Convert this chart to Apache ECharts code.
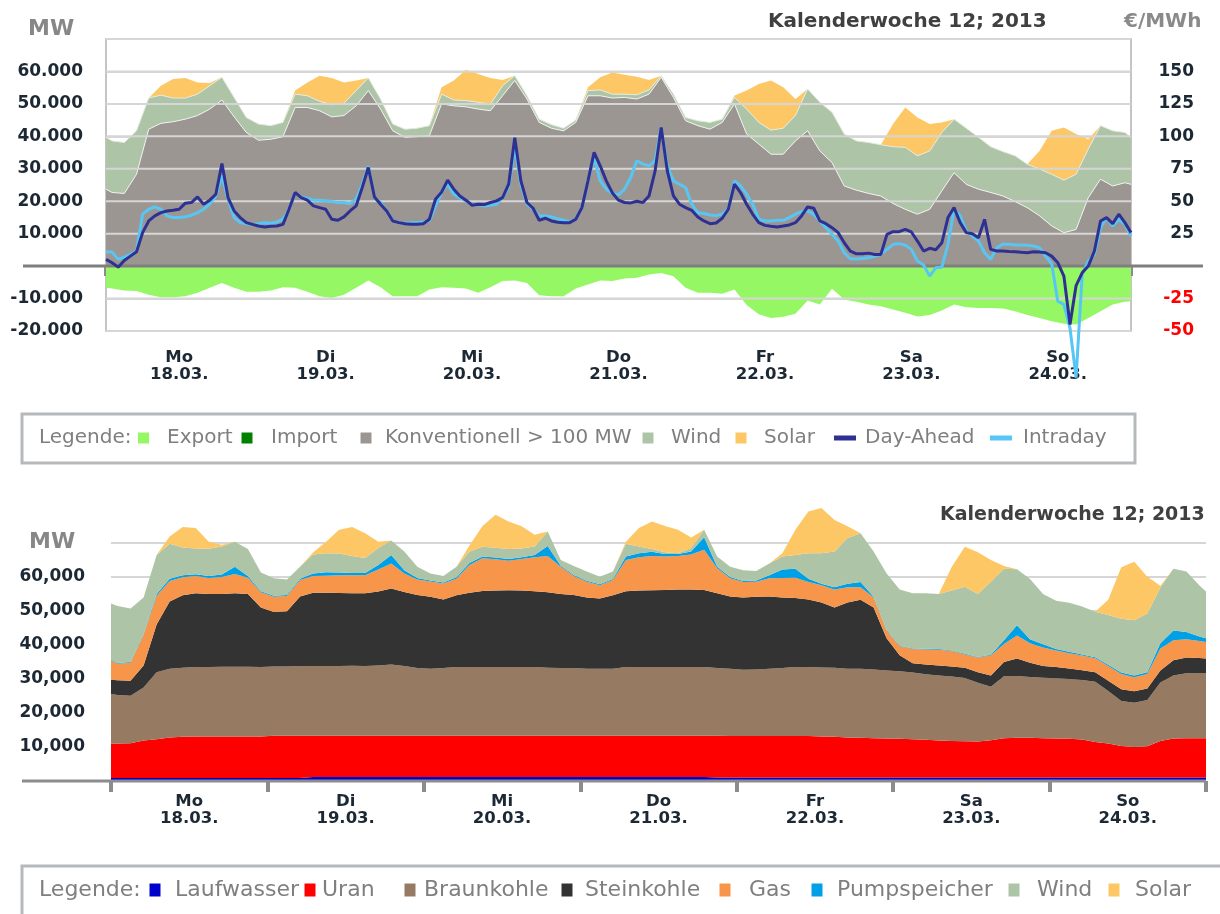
<!DOCTYPE html>
<html>
<head>
<meta charset="utf-8">
<title>Kalenderwoche 12; 2013</title>
<script src="https://cdn.jsdelivr.net/npm/echarts@6/dist/echarts.min.js"></script>
<style>
  html, body { margin: 0; padding: 0; background: #fff; }
  #chart { width: 1220px; height: 914px; }
</style>
</head>
<body>
<div id="chart"></div>
<script>
// hour of week for the area samples (0 = Mo 18.03. 00:00)
const areaHours = [0, 1, 3, 5, 7, 9, 11, 13, 15, 17, 19, 21, 23,
  25, 27, 29, 31, 33, 35, 37, 39, 41, 43, 45, 47,
  49, 51, 53, 55, 57, 59, 61, 63, 65, 67, 69, 71,
  73, 75, 77, 79, 81, 83, 85, 87, 89, 91, 93, 95,
  97, 99, 101, 103, 105, 107, 109, 111, 113, 115, 117, 119,
  121, 123, 125, 127, 129, 131, 133, 135, 137, 139, 141, 143,
  145, 147, 149, 151, 153, 155, 157, 159, 161, 163, 165, 167, 168];

const dayNames = ['Mo', 'Di', 'Mi', 'Do', 'Fr', 'Sa', 'So'];
const dayDates = ['18.03.', '19.03.', '20.03.', '21.03.', '22.03.', '23.03.', '24.03.'];

// ---- upper chart: MW ----
const topExport = [-6700, -6900, -7500, -7700, -8800, -9600, -9600, -9300, -8200, -6700, -5200, -6700, -7900,
  -7900, -7500, -6500, -6700, -7900, -9300, -9800, -8800, -6700, -4400, -6500, -9300,
  -9300, -9300, -7200, -6500, -6700, -6900, -8200, -6500, -4600, -4400, -5200, -9000,
  -9300, -9300, -6900, -5700, -4400, -4600, -3800, -3600, -2600, -2100, -3100, -6700,
  -8200, -8200, -8500, -7200, -12000, -14800, -16000, -15600, -14700, -10600, -11800, -7000,
  -10300, -11000, -11800, -12400, -13400, -14400, -15500, -15100, -13700, -11800, -12700, -12900,
  -12900, -13100, -13900, -15100, -16000, -17000, -17800, -18000, -16000, -13900, -11800, -11000, -10800];
const topImport = [];
const topConv = [23700, 22700, 22400, 28300, 42200, 44000, 44500, 45300, 46400, 48400, 51200, 46000, 41200,
  38800, 39100, 39900, 48900, 48900, 47900, 46000, 46400, 49400, 54100, 48400, 41700,
  39700, 39900, 40200, 50000, 49400, 49100, 48400, 47900, 52500, 57200, 51500, 44300,
  42500, 41700, 44300, 52500, 52500, 51800, 52000, 51500, 53000, 58200, 52000, 44800,
  43300, 42200, 44300, 50000, 40700, 37600, 34500, 34500, 38600, 41700, 35500, 31900,
  24700, 23400, 22400, 21600, 19300, 17500, 16000, 17500, 23200, 28800, 25200, 23700,
  22700, 21600, 19900, 18000, 15500, 12400, 10300, 11300, 21100, 26800, 24700, 25700, 25200];
const topWind = [16000, 15900, 15700, 13400, 9600, 8700, 7300, 6500, 6600, 7200, 7000, 6000, 4600,
  5000, 4200, 4400, 4100, 3600, 2900, 3700, 3800, 4700, 3900, 3100, 2100,
  2500, 2600, 3100, 3000, 1800, 1900, 2100, 2000, 3100, 1500, 1000, 1000,
  1100, 800, 700, 1600, 1800, 1200, 1000, 1300, 1300, 500, 1000, 1000,
  1500, 2100, 1000, 2000, 7700, 6700, 7400, 8000, 7800, 12900, 15000, 15500,
  16000, 15200, 15700, 15800, 17500, 19100, 18000, 18000, 18000, 16500, 17300, 16000,
  14100, 13700, 14100, 13400, 14400, 15900, 16200, 17000, 15000, 16500, 17000, 15500, 14500];
const topSolar = [0, 0, 0, 0, 0, 2900, 5900, 6200, 3600, 800, 0, 0, 0,
  0, 0, 0, 1100, 4100, 7900, 8300, 6400, 3100, 0, 0, 0,
  0, 0, 0, 2100, 6000, 9500, 8700, 8100, 1800, 0, 0, 0,
  0, 0, 0, 1000, 3900, 6700, 6000, 5600, 3100, 0, 0, 0,
  0, 0, 0, 600, 5700, 11800, 15300, 12600, 5100, 0, 0, 0,
  0, 0, 0, 0, 7000, 12300, 11800, 8300, 3100, 0, 0, 0,
  0, 0, 0, 0, 5600, 13400, 16200, 12400, 3000, 0, 0, 0, 0];
// y-axis tick values whose grid lines are drawn over the areas
const topGridValues = [-20000, -10000, 10000, 20000, 30000, 40000, 50000, 60000, 70000];

// ---- upper chart: prices, EUR/MWh, hourly from Mo 00:00 ----
const dayAhead = [5.2, 2.6, -0.8, 4.4, 7.7, 11, 25.8, 34.8, 38.7, 41.2, 42.5, 43, 43.8, 48.5, 49, 53.3, 47.7, 50.8, 55.4, 79, 52.8, 42.5, 37.4, 33.5,
  32.2, 30.9, 30.2, 30.7, 30.9, 32.2, 43.8, 56.7, 52.8, 50.8, 46.4, 45.1, 43.8, 36.1, 35.3, 37.9, 42.5, 46.4, 60.6, 76, 53.3, 47.7, 42.5, 34.8,
  33.5, 32.7, 32.2, 32.2, 32.7, 36.1, 51.5, 57, 66.2, 59.3, 54.1, 50.8, 46.9, 47.7, 47.4, 49, 50.3, 52.8, 63.1, 99, 65.7, 49, 44.6, 35.3,
  36.9, 34.8, 33.8, 33.5, 33.5, 36.1, 45.1, 65.7, 87.6, 77.3, 65.7, 56.4, 50.8, 49, 48.7, 50, 49, 54.1, 73.4, 106.9, 73.4, 54.1, 47.7, 45.1,
  43, 37.9, 34.8, 32.7, 33.2, 36.9, 43.8, 63.1, 56.7, 47.7, 39.9, 33.5, 31.4, 30.7, 30.2, 30.9, 31.7, 33.5, 38.7, 45.6, 44.6, 34.8, 32.7, 29.6,
  25.8, 18, 11.6, 9.5, 9.5, 10, 9, 9, 24.5, 26.5, 26.5, 28.3, 26.3, 19.3, 11.6, 13.7, 12.6, 18, 37.4, 45.1, 33.5, 25.8, 25, 21.9,
  36, 12.9, 11.6, 11.6, 11.3, 11.1, 10.6, 10.3, 11.1, 10.8, 10.3, 7.7, 2.6, -7.7, -45, -15, -5.2, 0, 11.6, 34.8, 37.4, 32.7, 40, 33.5, 25.8];
const intraday = [11, 10.8, 5.2, 7, 9, 11.6, 40, 43.8, 45.6, 43.8, 38.7, 37.4, 37.4, 38.1, 39.2, 41.2, 43.8, 47.7, 54, 69.6, 51.5, 37.4, 33.5, 32.7,
  32, 32.7, 33.5, 33, 34, 36, 43.8, 55.9, 53.3, 52.3, 50.8, 50.8, 50.3, 49.7, 49, 49, 48.2, 51.5, 63, 77, 52.8, 49, 42.5, 34.8,
  33.5, 33, 33.5, 33.5, 34, 35, 46, 56.7, 63.1, 55.4, 52.8, 50.3, 47.2, 47.2, 46.4, 46.9, 47.7, 52.8, 60.6, 91.5, 63.1, 47.7, 43.8, 38.7,
  38.7, 37.9, 36.6, 35.3, 34.3, 36.1, 45.1, 65.7, 83.8, 65.7, 59.3, 55.9, 54.9, 59.3, 68.3, 81.2, 78.6, 77.3, 81.2, 106.9, 77.3, 65.7, 63.1, 60.6,
  47.7, 41.2, 40.5, 39.4, 38.9, 40, 43.8, 65.7, 61.8, 55.4, 47.7, 36.1, 34.8, 34.8, 35.3, 35.3, 37.4, 40, 42, 42.5, 40, 34.8, 29.6, 24.5,
  19.3, 10.3, 5.7, 5.4, 5.9, 6.4, 7.7, 9, 12.9, 16.8, 17.3, 16.2, 12.9, 3.9, 0.8, -7.7, -1.3, -0.8, 16.8, 43.8, 38.7, 27, 23.2, 19.3,
  10.3, 5.2, 14.2, 16.8, 16.8, 16.2, 16.2, 16, 15.5, 14.2, 7.7, 1.8, -27, -29.6, -47.7, -86, -6.4, 3.9, 9, 29.6, 37.4, 30.9, 36.1, 32.2, 23.2];

// ---- lower chart: generation by source, MW ----
const genLaufwasser = [900, 900, 900, 900, 900, 900, 900, 900, 900, 900, 900, 900, 900,
  900, 900, 900, 1200, 1200, 1200, 1200, 1200, 1200, 1200, 1200, 1200,
  1200, 1200, 1200, 1200, 1200, 1200, 1200, 1200, 1200, 1200, 1200, 1200,
  1200, 1200, 1200, 1200, 1200, 1200, 1200, 1200, 1200, 1200, 1000, 1000,
  1000, 1000, 1000, 1000, 1000, 1000, 1000, 1000, 1000, 1000, 1000, 1000,
  1000, 1000, 1000, 1000, 1000, 1000, 1000, 1000, 1000, 1000, 1000, 1000,
  1000, 1000, 1000, 1000, 1000, 1000, 1000, 1000, 1000, 1000, 1000, 1000, 1000];
const genUran = [10100, 10100, 10200, 11000, 11400, 11900, 12100, 12200, 12200, 12200, 12200, 12200, 12200,
  12400, 12400, 12400, 12100, 12100, 12100, 12100, 12100, 12100, 12100, 12100, 12100,
  12100, 12100, 12100, 12100, 12100, 12100, 12100, 12100, 12100, 12100, 12100, 12100,
  12100, 12100, 12100, 12100, 12100, 12100, 12100, 12100, 12100, 12100, 12300, 12200,
  12200, 12200, 12200, 12200, 12200, 12200, 12100, 12000, 11800, 11700, 11600, 11500,
  11400, 11300, 11100, 10900, 10800, 10700, 10600, 11000, 11600, 11700, 11700, 11600,
  11500, 11400, 11200, 10500, 10000, 9300, 9000, 9200, 10800, 11500, 11600, 11600, 11600];
const genBraunkohle = [14600, 14300, 14000, 15600, 19700, 20200, 20300, 20400, 20400, 20500, 20500, 20500, 20400,
  20400, 20400, 20500, 20500, 20500, 20500, 20600, 20500, 20700, 21000, 20500, 19900,
  19700, 19900, 20200, 20200, 20200, 20200, 20200, 20200, 20200, 20000, 19900, 19900,
  19700, 19700, 19700, 20200, 20200, 20200, 20200, 20200, 20200, 20200, 19900, 19800,
  19500, 19600, 19800, 20000, 20300, 20300, 20300, 20300, 20200, 20300, 20200, 20000,
  19900, 19600, 19300, 19100, 18900, 18600, 17300, 15700, 18200, 18200, 17900, 17800,
  17700, 17600, 17500, 17700, 15500, 13200, 13000, 13600, 17200, 18500, 19100, 19200, 19200];
const genSteinkohle = [4200, 4300, 4400, 6500, 14000, 19800, 21300, 21700, 21500, 21400, 21600, 21400, 17500,
  16000, 16200, 20500, 21600, 21600, 21500, 21300, 21400, 21700, 22300, 21800, 21500,
  21200, 20200, 21100, 21900, 22400, 22500, 22600, 22500, 22300, 22200, 21800, 21500,
  21000, 20700, 21600, 22300, 22500, 22600, 22700, 22800, 22800, 22700, 22000, 21300,
  21300, 21400, 21300, 20800, 20300, 19900, 19100, 17700, 19500, 20300, 18200, 9500,
  4700, 2700, 2900, 3000, 3000, 3000, 3100, 3300, 4200, 5100, 4200, 3400,
  3300, 3100, 2900, 2800, 3000, 3500, 3400, 3400, 3500, 4500, 4600, 4400, 4200];
const genGas = [5700, 4900, 5300, 9000, 8500, 6000, 5300, 5100, 4700, 5000, 5700, 4800, 4500,
  4500, 4500, 4800, 4900, 5000, 5200, 5300, 5300, 6500, 7400, 5400, 4600,
  4500, 4700, 4900, 8100, 9600, 9200, 8700, 9300, 10000, 10700, 8000, 5600,
  4600, 3900, 4500, 9200, 9800, 10100, 9800, 9900, 10300, 11800, 7400, 5300,
  4500, 4400, 5300, 5700, 6000, 5100, 5100, 5300, 4500, 3700, 3000, 2300,
  2600, 4200, 4400, 4600, 4500, 3900, 4300, 5900, 5300, 6800, 5700, 5500,
  4900, 4500, 4300, 4100, 4300, 4500, 4100, 4300, 6500, 5900, 5400, 5000, 4900];
const genPumpspeicher = [200, 200, 200, 200, 500, 700, 600, 500, 600, 700, 2100, 500, 300,
  300, 300, 400, 700, 1000, 800, 700, 700, 1300, 2500, 1000, 400,
  300, 300, 400, 600, 500, 500, 500, 500, 700, 2900, 300, 300,
  300, 300, 300, 1000, 1200, 1200, 800, 600, 900, 3700, 400, 400,
  300, 400, 900, 2500, 2600, 1000, 400, 700, 1000, 1500, 200, 200,
  200, 200, 200, 200, 200, 200, 200, 200, 1100, 3000, 1200, 900,
  400, 400, 300, 300, 400, 400, 500, 500, 1500, 2900, 2100, 1300, 1100];
const genWind = [16500, 16800, 15700, 10800, 11500, 10300, 8200, 7600, 8000, 8300, 7400, 7900, 5500,
  5100, 4600, 3500, 5600, 5600, 5600, 5000, 4400, 5000, 4200, 5500, 3300,
  2000, 1900, 3100, 3400, 2900, 2900, 2900, 2600, 2500, 4300, 1700, 2600,
  2700, 2200, 2200, 3800, 2000, 800, 500, 200, 1000, 2200, 3000, 3000,
  3200, 2800, 3500, 3800, 4100, 7500, 9000, 10500, 13500, 14400, 13300, 16500,
  16500, 16200, 16300, 16200, 17600, 19700, 18500, 21500, 21000, 16500, 17700, 14800,
  14200, 14400, 14100, 13400, 14600, 15800, 16300, 17300, 16400, 18100, 17800, 15000, 13700];
const genSolar = [0, 0, 0, 0, 0, 2100, 6000, 6000, 2100, 500, 0, 0, 0,
  0, 0, 0, 600, 3400, 7000, 8500, 7300, 1900, 0, 0, 0,
  0, 0, 0, 1800, 6100, 9700, 8100, 6500, 3400, 0, 0, 0,
  0, 0, 0, 600, 5400, 8100, 7700, 6900, 3100, 0, 0, 0,
  0, 0, 0, 1000, 7400, 12300, 13300, 9300, 3400, 0, 0, 0,
  0, 0, 0, 0, 7000, 11800, 12300, 6400, 800, 0, 0, 0,
  0, 0, 0, 0, 4500, 15200, 17200, 10800, 500, 0, 0, 0, 0];

const FONT = 'DejaVu Sans';
const W = 1220;
const C = {
  export: '#95f763', import: '#008000', conv: '#9c9692', wind: '#adc4a6', solar: '#fdc765',
  da: '#2e3192', id: '#58c6f4', grid: '#d6d6d6',
  lauf: '#0000cc', uran: '#ff0000', braun: '#967b62', stein: '#333333', gas: '#f7964a', pump: '#00a0e6'
};
const topGrid = { left: 106, right: 89, top: 39, height: 292 };
const botGrid = { left: 111, right: 14, top: 475, height: 306 };

// week start, used for the time axes (stacking is done on y only)
const T0 = Date.UTC(2013, 2, 18);
const HOUR = 3600 * 1000;
const pairs = (hs, ys) => hs.map((h, i) => [T0 + h * HOUR, ys[i]]);
const hourly = ys => ys.map((v, i) => [T0 + i * HOUR, v]);
const dayLabels = dayNames.map((d, i) => d + '\n' + dayDates[i]);

function area(name, values, color, stack, xi, yi, line) {
  return {
    name, type: 'line', xAxisIndex: xi, yAxisIndex: yi, stack, z: 2,
    data: pairs(areaHours, values), symbol: 'none', color,
    itemStyle: { color },
    lineStyle: line || { width: 0 },
    areaStyle: { color, opacity: 1 }
  };
}

// legend items: [icon centre x, icon width, icon height, text start x]
const topLegendNames = ['Export', 'Import', 'Konventionell > 100 MW', 'Wind', 'Solar', 'Day-Ahead', 'Intraday'];
const topLegendPos = [[143.5, 11, 11, 167], [247, 11, 11, 271], [366, 11, 11, 385], [648, 11, 11, 671],
  [741, 11, 11, 764], [845, 22, 5, 865], [1001, 22, 5, 1023]];
const botLegendNames = ['Laufwasser', 'Uran', 'Braunkohle', 'Steinkohle', 'Gas', 'Pumpspeicher', 'Wind', 'Solar'];
const botLegendPos = [[155, 11, 13, 175], [310, 11, 13, 322], [410, 11, 13, 424], [567, 11, 13, 585],
  [725, 11, 13, 749], [817, 11, 13, 837], [1014, 11, 13, 1037], [1114, 11, 13, 1135]];

function legends(names, pos, centerY, fontSize) {
  const lh = fontSize + 4;
  return names.map((name, i) => {
    const [cx, w, h, tx] = pos[i];
    const iw = Math.max(w, 2 * (tx - 5 - cx));
    // the legend box starts at the icon's left edge
    return {
      left: tx - 5 - iw + (iw - w) / 2, top: centerY - lh / 2, padding: 0,
      itemWidth: iw, itemHeight: h, itemGap: 0, selectedMode: false,
      icon: 'path://M0,0h' + w + 'v' + h + 'h-' + w + 'Z',
      itemStyle: { borderWidth: 0 },
      data: [name],
      textStyle: { fontFamily: FONT, fontSize, color: '#7f7f7f', lineHeight: lh }
    };
  });
}

const tickLabel = { fontFamily: FONT, fontWeight: 'bold', fontSize: 17, color: '#1c2833' };
const dayAxisLabel = { interval: 0, fontFamily: FONT, fontWeight: 'bold', fontSize: 16.5, color: '#1c2833', lineHeight: 17 };

const chart = echarts.init(document.getElementById('chart'));

const option = {
  animation: false,
  backgroundColor: '#ffffff',
  grid: [topGrid, botGrid],
  xAxis: [
    { type: 'time', gridIndex: 0, min: T0, max: T0 + 168 * HOUR, show: false },
    {
      type: 'category', gridIndex: 0, position: 'bottom', data: dayLabels,
      axisLine: { show: false }, splitLine: { show: false },
      axisTick: { show: true, length: 10, lineStyle: { color: '#8c8c8c', width: 4 } },
      axisLabel: Object.assign({ margin: 18 }, dayAxisLabel)
    },
    { type: 'time', gridIndex: 1, min: T0, max: T0 + 168 * HOUR, show: false },
    {
      type: 'category', gridIndex: 1, position: 'bottom', data: dayLabels,
      axisLine: { show: false }, splitLine: { show: false },
      axisTick: { show: true, length: 11, lineStyle: { color: '#8c8c8c', width: 4 } },
      axisLabel: Object.assign({ margin: 12 }, dayAxisLabel)
    }
  ],
  yAxis: [
    {
      type: 'value', gridIndex: 0, min: -20000, max: 70000, interval: 10000,
      axisLine: { show: true, lineStyle: { color: '#c4c4c4', width: 2 } },
      axisTick: { show: false },
      splitLine: { lineStyle: { color: C.grid, width: 2 } },
      axisLabel: Object.assign({
        margin: 23,
        formatter: v => (v === 0 || v === 70000) ? '' : (v < 0 ? '-' : '') + (Math.abs(v) / 1000) + '.000'
      }, tickLabel)
    },
    {
      type: 'value', gridIndex: 0, position: 'right', min: -50, max: 175, interval: 25,
      axisLine: { show: true, lineStyle: { color: '#c4c4c4', width: 2 } },
      axisTick: { show: false }, splitLine: { show: false },
      axisLabel: Object.assign({}, tickLabel, {
        margin: 63, align: 'right',
        formatter: v => (v === 0 || v === 175) ? '' : String(v),
        color: v => Number(v) < 0 ? '#ff0000' : '#1c2833'
      })
    },
    {
      type: 'value', gridIndex: 1, min: 0, max: 90000, interval: 10000,
      axisLine: { show: false }, axisTick: { show: false },
      splitLine: { lineStyle: { width: 2, color: ['transparent', C.grid, C.grid, C.grid, C.grid, C.grid, C.grid, C.grid, 'transparent', 'transparent'] } },
      axisLabel: Object.assign({
        margin: 26,
        formatter: v => (v === 0 || v >= 70000) ? '' : (v / 1000) + ',000'
      }, tickLabel)
    }
  ],
  legend: legends(topLegendNames, topLegendPos, 438, 20).concat(legends(botLegendNames, botLegendPos, 890, 22)),
  series: [
    area('Export', topExport, C.export, null, 0, 0),
    { name: 'Import', type: 'line', xAxisIndex: 0, yAxisIndex: 0, data: topImport, symbol: 'none', color: C.import, itemStyle: { color: C.import } },
    area('Konventionell > 100 MW', topConv, C.conv, 'supply', 0, 0, { width: 1, color: '#f0f0f0' }),
    area('Wind', topWind, C.wind, 'supply', 0, 0, { width: 1, color: '#e4ebe1' }),
    area('Solar', topSolar, C.solar, 'supply', 0, 0),
    // price lines live on their own layer, above the grid lines
    {
      name: 'Intraday', type: 'line', xAxisIndex: 0, yAxisIndex: 1, data: hourly(intraday),
      symbol: 'none', clip: false, zlevel: 1, z: 6, color: C.id, itemStyle: { color: C.id },
      lineStyle: { color: C.id, width: 3 }
    },
    {
      name: 'Day-Ahead', type: 'line', xAxisIndex: 0, yAxisIndex: 1, data: hourly(dayAhead),
      symbol: 'none', clip: false, zlevel: 1, z: 7, color: C.da, itemStyle: { color: C.da },
      lineStyle: { color: C.da, width: 3 }
    },
    area('Laufwasser', genLaufwasser, C.lauf, 'gen', 2, 2),
    area('Uran', genUran, C.uran, 'gen', 2, 2),
    area('Braunkohle', genBraunkohle, C.braun, 'gen', 2, 2),
    area('Steinkohle', genSteinkohle, C.stein, 'gen', 2, 2),
    area('Gas', genGas, C.gas, 'gen', 2, 2),
    area('Pumpspeicher', genPumpspeicher, C.pump, 'gen', 2, 2),
    area('Wind', genWind, C.wind, 'gen', 2, 2),
    area('Solar', genSolar, C.solar, 'gen', 2, 2)
  ]
};

chart.setOption(option);

// texts, legend frames, the upper grid lines (on the upper layer, over the areas)
// and the zero lines that run past the plot areas
const yTop = v => chart.convertToPixel({ yAxisIndex: 0 }, v);
const y0Bot = chart.convertToPixel({ yAxisIndex: 2 }, 0);
const xL = topGrid.left;
const xR = W - topGrid.right;
const txt = (x, y, text, size, weight, fill) => ({
  type: 'text', x, y, z: 10,
  style: { text, fontFamily: FONT, fontSize: size, fontWeight: weight, fill, verticalAlign: 'middle', align: 'left' }
});
const gridLines = topGridValues.map(v => ({
  type: 'line', zlevel: 1, z: 1, silent: true,
  shape: { x1: xL, y1: yTop(v), x2: xR, y2: yTop(v) },
  style: { stroke: C.grid, lineWidth: 2 }
}));
chart.setOption({
  graphic: gridLines.concat([
    txt(28, 29, 'MW', 22, 'bold', '#878787'),
    txt(768, 22, 'Kalenderwoche 12; 2013', 20, 'bold', '#404040'),
    txt(1124, 22, '€/MWh', 20, 'bold', '#8a8a8a'),
    txt(29, 542, 'MW', 22, 'bold', '#878787'),
    txt(940, 515, 'Kalenderwoche 12; 2013', 19, 'bold', '#404040'),
    txt(39, 438, 'Legende:', 20, 'normal', '#7f7f7f'),
    txt(39, 890, 'Legende:', 22, 'normal', '#7f7f7f'),
    { type: 'rect', z: 1, shape: { x: 22, y: 414, width: 1113, height: 49 }, style: { fill: 'none', stroke: '#b6b9bb', lineWidth: 3 } },
    { type: 'rect', z: 1, shape: { x: 22, y: 866, width: 1215, height: 60 }, style: { fill: 'none', stroke: '#b6b9bb', lineWidth: 3 } },
    { type: 'line', zlevel: 1, z: 2, shape: { x1: 23, y1: yTop(0), x2: 1203, y2: yTop(0) }, style: { stroke: '#7f7f7f', lineWidth: 3 } },
    { type: 'line', zlevel: 1, z: 2, shape: { x1: 22, y1: y0Bot, x2: W - botGrid.right, y2: y0Bot }, style: { stroke: '#8c8c8c', lineWidth: 3 } }
  ])
});
</script>
</body>
</html>
